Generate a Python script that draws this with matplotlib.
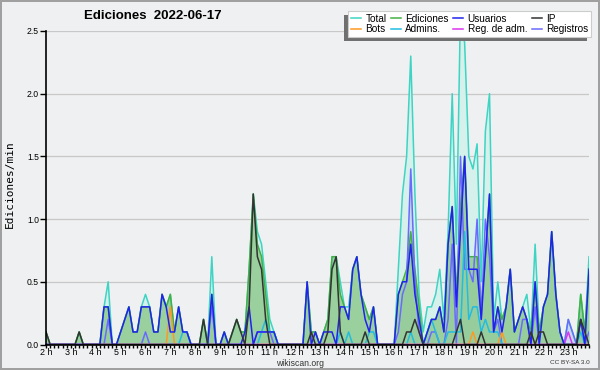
import matplotlib
matplotlib.use("Agg")
import matplotlib.pyplot as plt
from matplotlib.lines import Line2D
from matplotlib.patches import Rectangle
import numpy as np

plt.rcParams["font.family"] = ["Liberation Sans", "DejaVu Sans"]

# 10-minute bins from 02:00 to 23:50, one row per hour (edits / min)
total = [
    0.1, 0, 0, 0, 0, 0,
    0, 0, 0.1, 0, 0, 0,
    0, 0, 0.3, 0.5, 0, 0,
    0.1, 0.2, 0.3, 0.1, 0.1, 0.3,
    0.4, 0.3, 0.1, 0.1, 0.4, 0.3,
    0.4, 0.1, 0.3, 0.1, 0.1, 0,
    0, 0, 0.2, 0, 0.7, 0,
    0, 0.1, 0, 0.1, 0.2, 0.1,
    0.1, 0.6, 1.2, 0.9, 0.8, 0.5,
    0.2, 0.1, 0, 0, 0, 0,
    0, 0, 0, 0.5, 0.1, 0.1,
    0, 0.1, 0.2, 0.7, 0.7, 0.5,
    0.3, 0.3, 0.6, 0.7, 0.4, 0.3,
    0.2, 0.3, 0, 0, 0, 0,
    0, 0.6, 1.2, 1.5, 2.3, 1.2,
    0.4, 0.1, 0.3, 0.3, 0.4, 0.6,
    0.2, 0.9, 2.0, 0.8, 2.7, 2.4,
    1.5, 1.4, 1.6, 0.5, 1.7, 2.0,
    0.2, 0.5, 0.2, 0.3, 0.6, 0.1,
    0.2, 0.3, 0.4, 0.1, 0.8, 0.1,
    0.3, 0.4, 0.9, 0.4, 0.1, 0,
    0.2, 0.1, 0, 0.4, 0.1, 0.7,
]
ediciones = [
    0.1, 0, 0, 0, 0, 0,
    0, 0, 0.1, 0, 0, 0,
    0, 0, 0.3, 0.3, 0, 0,
    0.1, 0.2, 0.3, 0.1, 0.1, 0.3,
    0.3, 0.3, 0.1, 0.1, 0.4, 0.3,
    0.4, 0.1, 0.3, 0.1, 0.1, 0,
    0, 0, 0.2, 0, 0.4, 0,
    0, 0.1, 0, 0.1, 0.2, 0.1,
    0.1, 0.6, 1.2, 0.8, 0.7, 0.4,
    0.1, 0.1, 0, 0, 0, 0,
    0, 0, 0, 0.5, 0.1, 0.1,
    0, 0.1, 0.2, 0.7, 0.7, 0.4,
    0.3, 0.2, 0.6, 0.7, 0.4, 0.3,
    0.2, 0.3, 0, 0, 0, 0,
    0, 0.4, 0.5, 0.6, 0.9, 0.6,
    0.3, 0, 0.1, 0.2, 0.2, 0.3,
    0.1, 0.8, 1.1, 0.4, 1.1, 1.5,
    0.7, 0.7, 0.7, 0.3, 0.7, 1.2,
    0.1, 0.3, 0.2, 0.3, 0.6, 0.1,
    0.2, 0.3, 0.2, 0.1, 0.5, 0.1,
    0.3, 0.4, 0.9, 0.4, 0.1, 0,
    0, 0, 0, 0.4, 0.1, 0.6,
]
usuarios = [
    0, 0, 0, 0, 0, 0,
    0, 0, 0, 0, 0, 0,
    0, 0, 0.3, 0.3, 0, 0,
    0.1, 0.2, 0.3, 0.1, 0.1, 0.3,
    0.3, 0.3, 0.1, 0.1, 0.4, 0.3,
    0.1, 0.1, 0.3, 0.1, 0.1, 0,
    0, 0, 0, 0, 0.4, 0,
    0, 0.1, 0, 0, 0, 0,
    0.1, 0.3, 0, 0.1, 0.1, 0.1,
    0.1, 0.1, 0, 0, 0, 0,
    0, 0, 0, 0.5, 0, 0.1,
    0, 0.1, 0.1, 0.1, 0, 0.3,
    0.3, 0.2, 0.6, 0.7, 0.4, 0.2,
    0.1, 0.3, 0, 0, 0, 0,
    0, 0.4, 0.5, 0.5, 0.8, 0.4,
    0.2, 0, 0.1, 0.2, 0.2, 0.3,
    0.1, 0.8, 1.1, 0.3, 0.9, 1.5,
    0.6, 0.6, 0.6, 0.2, 0.7, 1.2,
    0.1, 0.3, 0.1, 0.3, 0.6, 0.1,
    0.2, 0.3, 0.2, 0, 0.5, 0,
    0.3, 0.4, 0.9, 0.4, 0.1, 0,
    0, 0, 0, 0.2, 0, 0.6,
]
ip = [
    0.1, 0, 0, 0, 0, 0,
    0, 0, 0.1, 0, 0, 0,
    0, 0, 0, 0, 0, 0,
    0, 0, 0, 0, 0, 0,
    0, 0, 0, 0, 0, 0,
    0, 0, 0, 0, 0, 0,
    0, 0, 0.2, 0, 0, 0,
    0, 0, 0, 0.1, 0.2, 0.1,
    0, 0.3, 1.2, 0.7, 0.6, 0.2,
    0, 0, 0, 0, 0, 0,
    0, 0, 0, 0, 0.1, 0,
    0, 0, 0.1, 0.6, 0.7, 0.1,
    0, 0, 0, 0, 0, 0.1,
    0, 0, 0, 0, 0, 0,
    0, 0, 0, 0.1, 0.1, 0.2,
    0.1, 0, 0, 0, 0, 0,
    0, 0, 0, 0.1, 0.2, 0,
    0, 0, 0, 0.1, 0, 0,
    0, 0, 0, 0, 0, 0,
    0, 0, 0, 0.1, 0, 0.1,
    0.1, 0, 0, 0, 0, 0,
    0, 0, 0, 0.2, 0.1, 0,
]
bots_bins = [30, 103, 110]
bots_vals = [0.3, 0.1, 0.1]
admins = [
    0, 0, 0, 0, 0, 0,
    0, 0, 0, 0, 0, 0,
    0, 0, 0, 0, 0, 0,
    0, 0, 0, 0, 0, 0,
    0, 0, 0, 0, 0, 0,
    0, 0, 0, 0.1, 0.1, 0,
    0, 0, 0, 0, 0, 0,
    0, 0, 0, 0, 0, 0,
    0, 0, 0, 0, 0.1, 0.2,
    0.1, 0.1, 0, 0, 0, 0,
    0, 0, 0, 0, 0, 0,
    0, 0, 0, 0, 0, 0.1,
    0, 0.1, 0, 0, 0, 0,
    0.1, 0.1, 0, 0, 0, 0,
    0, 0, 0, 0, 0.1, 0,
    0, 0, 0.1, 0.2, 0.1, 0,
    0, 0.1, 0.1, 0.1, 0.1, 0.9,
    0.2, 0.3, 0.3, 0.1, 0.2, 0.1,
    0.1, 0.1, 0, 0, 0, 0,
    0, 0, 0, 0, 0, 0,
    0, 0, 0, 0, 0, 0,
    0, 0, 0, 0.1, 0, 0,
]
reg_adm_bins = [126]
reg_adm_vals = [0.1]
registros = [
    0, 0, 0, 0, 0, 0,
    0, 0, 0, 0, 0, 0,
    0, 0, 0, 0.2, 0, 0,
    0, 0, 0, 0, 0, 0,
    0.1, 0, 0, 0, 0, 0,
    0, 0, 0, 0, 0, 0,
    0, 0, 0, 0, 0.3, 0,
    0, 0, 0, 0, 0, 0,
    0, 0, 0, 0.1, 0.1, 0.1,
    0.1, 0, 0, 0, 0, 0,
    0, 0, 0, 0, 0, 0,
    0, 0, 0, 0, 0, 0,
    0, 0, 0, 0, 0, 0,
    0, 0, 0, 0, 0, 0,
    0, 0.1, 0.4, 0.5, 1.4, 0.5,
    0.1, 0, 0, 0.1, 0.1, 0,
    0, 0.2, 0.8, 0, 1.5, 0.6,
    0.6, 0.5, 1.0, 0.2, 1.0, 0.7,
    0.1, 0.2, 0, 0, 0, 0,
    0, 0.2, 0.2, 0, 0.3, 0,
    0, 0, 0, 0, 0, 0,
    0.2, 0.1, 0, 0.2, 0, 0.1,
]
hour_labels = [f"{h} h" for h in range(2, 24)]

n = len(total)
t = 2 + np.arange(n) / 6.0
bots = np.zeros(n)
bots[bots_bins] = bots_vals
reg_adm = np.zeros(n)
reg_adm[reg_adm_bins] = reg_adm_vals

W, H = 600, 370
bg = "#eff0f1"
fig = plt.figure(figsize=(6, 3.7), dpi=100, facecolor=bg)
fig.patch.set_edgecolor("#a0a0a0")
fig.patch.set_linewidth(1.5)
ax = fig.add_axes([46 / W, 1 - 344.5 / H, (589 - 46) / W, (344.5 - 31) / H])
ax.set_facecolor(bg)

c_total = "#3dd4c4"
c_ed = "#44b044"
c_us = "#2222ee"
c_ip = "#333333"
c_bots = "#ff9922"
c_adm = "#22bde0"
c_regadm = "#dd33ee"
c_reg = "#6a6aff"

ax.fill_between(t, total, color="#d6f1ec", lw=0, zorder=1)
ax.fill_between(t, registros, color="#c2d6ee", lw=0, alpha=0.8, zorder=2)
ax.fill_between(t, ediciones, color="#8fcb8f", lw=0, alpha=0.85, zorder=3)

lw = 1.1
ax.plot(t, total, color=c_total, lw=lw, zorder=4)
ax.plot(t, ediciones, color=c_ed, lw=lw, zorder=5)
ax.plot(t, registros, color=c_reg, lw=lw, zorder=6)
ax.plot(t, admins, color=c_adm, lw=lw, zorder=7)
ax.plot(t, bots, color=c_bots, lw=lw, zorder=8)
ax.plot(t, reg_adm, color=c_regadm, lw=lw, zorder=8)
ax.plot(t, usuarios, color=c_us, lw=lw, zorder=9)
ax.plot(t, ip, color=c_ip, lw=lw, zorder=10)

yt = np.arange(0, 2.51, 0.5)
ax.set_xlim(t[0], t[-1])
ax.set_ylim(0, 2.5)
ax.set_yticks(yt)
ax.set_yticklabels([f"{v:.1f}" for v in yt])
ax.yaxis.grid(True, color="#c8c8c8", lw=0.9)
ax.set_axisbelow(True)
ax.set_xticks(np.arange(2, 24))
ax.set_xticklabels(hour_labels)
ax.set_xticks(t, minor=True)
ax.tick_params(axis="x", which="both", direction="out", length=2.5, width=1, labelsize=6.4, pad=0)
ax.tick_params(axis="y", which="major", direction="out", length=4, width=1, labelsize=6.2, pad=1)
for s in ["top", "right"]:
    ax.spines[s].set_visible(False)
for s in ["left", "bottom"]:
    ax.spines[s].set_linewidth(1.2)
    ax.spines[s].set_zorder(20)

fig.text(153 / W, 1 - 16 / H, "Ediciones  2022-06-17", ha="center", va="center",
         fontsize=9.5, fontweight="bold")
fig.text(10 / W, 1 - 184 / H, "Ediciones/min", rotation=90, ha="center", va="center",
         fontsize=8, family="DejaVu Sans Mono")
fig.text(300 / W, 1 - 363.5 / H, "wikiscan.org", ha="center", va="center", fontsize=6.2, color="#333333")
fig.text(590 / W, 1 - 362 / H, "CC BY-SA 3.0", ha="right", va="center", fontsize=4.6, color="#333333")

labels = ["Total", "Bots", "Ediciones", "Admins.", "Usuarios", "Reg. de adm.", "IP", "Registros"]
colors = [c_total, c_bots, c_ed, c_adm, c_us, c_regadm, c_ip, c_reg]
handles = [Line2D([], [], color=c, lw=1.1) for c in colors]
leg = fig.legend(handles, labels, ncol=4, loc="upper right", bbox_to_anchor=(591 / W, 1 - 11 / H),
                 fontsize=7.2, frameon=True, fancybox=False, shadow=False,
                 framealpha=1, facecolor="white", edgecolor="#cccccc", handlelength=1.0,
                 handletextpad=0.45, columnspacing=0.45, labelspacing=0.1, borderpad=0.25,
                 borderaxespad=0)
leg.get_frame().set_linewidth(0.8)
leg.set_zorder(31)

# legend shadow offset to the lower-left of the legend box
fig.canvas.draw()
bb = leg.get_window_extent().transformed(fig.transFigure.inverted())
fig.patches.append(Rectangle((bb.x0 - 4 / W, bb.y0 - 4 / H), bb.width, bb.height,
                             transform=fig.transFigure, facecolor="#707070", edgecolor="none", zorder=30))

fig.savefig("out.png", dpi=100, facecolor=bg, edgecolor=fig.patch.get_edgecolor())
